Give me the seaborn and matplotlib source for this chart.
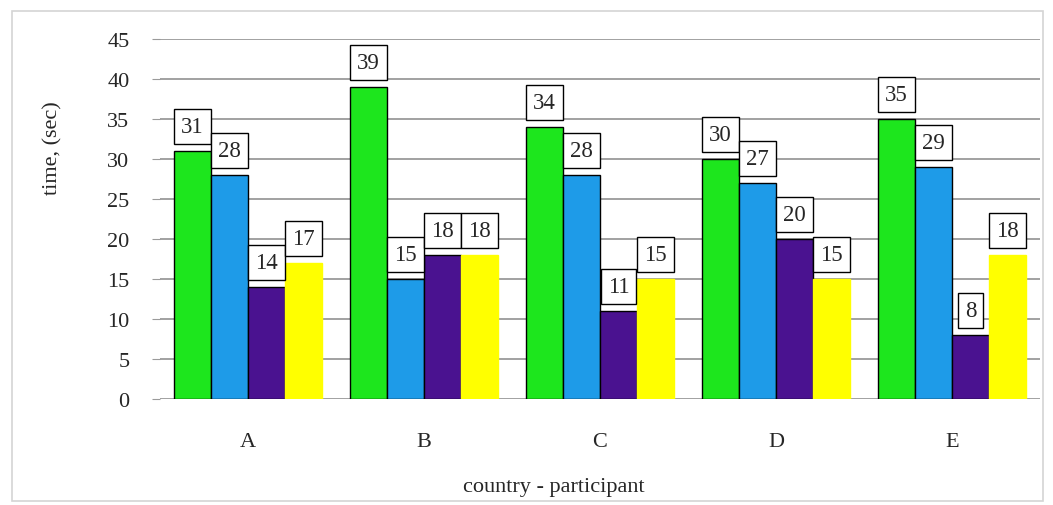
import pandas as pd
import matplotlib.pyplot as plt
import seaborn as sns
from matplotlib.patches import Rectangle

# chart data
countries = ['A', 'B', 'C', 'D', 'E']
series_names = ['s1', 's2', 's3', 's4']
s1 = [31, 39, 34, 30, 35]
s2 = [28, 15, 28, 27, 29]
s3 = [14, 18, 11, 20, 8]
s4 = [17, 18, 15, 15, 18]
colors = ['#1de61d', '#1e9be8', '#4a1290', '#ffff00']

rows = []
for name, vals in zip(series_names, [s1, s2, s3, s4]):
    for c, v in zip(countries, vals):
        rows.append({'country': c, 'series': name, 'time': v})
df = pd.DataFrame(rows)

sns.set_style('white')
plt.rcParams['font.family'] = ['Liberation Serif', 'DejaVu Serif']

fig = plt.figure(figsize=(10.53, 5.06), dpi=100)
ax = fig.add_axes([160 / 1053, 1 - 400 / 506, 880 / 1053, 360 / 506])

sns.barplot(data=df, x='country', y='time', hue='series', order=countries,
            hue_order=series_names, palette=colors, width=0.84, gap=0,
            edgecolor='black', linewidth=1.0, saturation=1, legend=False, ax=ax)

# yellow bars have no outline
for bar in ax.containers[3]:
    bar.set_edgecolor('#ffff00')

for cont in ax.containers:
    ax.bar_label(cont, padding=10, fontsize=16.5,
                 bbox=dict(boxstyle='square,pad=0.3', fc='white', ec='black', lw=1))

ax.set_ylim(0, 45)
ax.set_xlim(-0.5, 4.5)
ax.set_yticks(range(0, 46, 5))
ax.yaxis.grid(True, color='#9a9a9a', linewidth=1.3)
ax.set_axisbelow(True)
for s in ax.spines.values():
    s.set_visible(False)
ax.tick_params(axis='y', labelsize=16, length=6, color='#9a9a9a', pad=16, left=True)
ax.tick_params(axis='x', labelsize=16, length=0, pad=24)
ax.set_xlabel('country - participant', fontsize=16)
ax.set_ylabel('time, (sec)', fontsize=16)
ax.xaxis.set_label_coords(0.448, -0.216)
ax.yaxis.set_label_coords(-0.111, 0.70)

# light frame around the whole chart
fig.patches.append(Rectangle((12 / 1053, 4 / 506), 1031 / 1053, 490 / 506,
                             transform=fig.transFigure, fill=False,
                             ec='#d4d4d4', lw=1.2))

fig.savefig('out.png', dpi=100)
